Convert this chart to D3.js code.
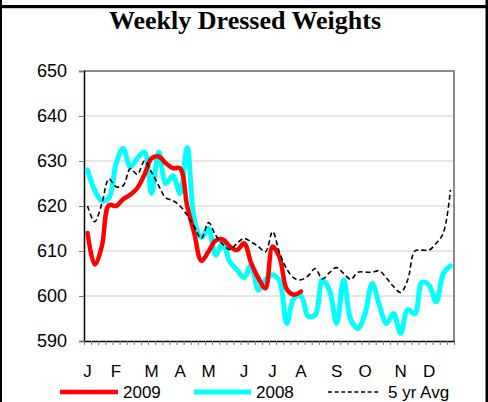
<!DOCTYPE html>
<html><head><meta charset="utf-8">
<script src="https://cdn.jsdelivr.net/npm/d3@7"></script>
<style>
html,body{margin:0;padding:0;background:#fff;}
svg{display:block;}
text{font-family:Arial,"Liberation Sans",sans-serif;fill:#000;}
</style></head>
<body>
<svg id="c" width="488" height="402"></svg>
<script>
// ---- data ----
const weeks = d3.range(52);
const monthLabels = ["J","F","M","A","M","J","J","A","S","O","N","D"];
const monthWeekIndex = [0,4,9,13,17,22,26,30,35,39,44,48];
const yTicks = [590,600,610,620,630,640,650];
const series2009 = [614,607,611,620.2,620,621.5,622.5,624,627,630.6,631,629.5,628.4,628.4,620,613.9,607.8,609.9,612.3,612.6,611,610.2,611.7,607.3,604,601.7,611,608.5,601.5,600.3,601];
const series2008 = [628,623.5,621.2,621.8,629.3,632.8,628.7,630.6,632,622.8,632,625,626.7,622.8,633,617,613,615,609.1,611.7,607.6,605.8,604.1,606.9,601.3,603.6,604.7,603.2,593.9,599.5,600,595.5,595.8,603.6,601.3,593.9,603.6,594.7,592.8,596.1,602.8,598,593.9,596.1,591.7,597,596,603,602.4,598.7,605,606.7];
const series5yr = [620,616.5,620.5,626,624.3,624.5,628.3,627,630,627.5,624.5,621.8,621.2,620,618,615.4,612.8,616.3,613.5,611.5,610.3,611.7,612.8,612,611,609.8,614.3,609.5,606,604,603.6,604.5,606.1,603.8,605.2,606.3,605,603.7,605.3,605.3,605.3,605.6,604,602.1,600.8,603.6,610,610.2,610.2,611.7,614,623.6];
const legendItems = [
  {label:"2009", color:"#ff0000", width:4.5, dash:null},
  {label:"2008", color:"#00ffff", width:5, dash:null},
  {label:"5 yr Avg", color:"#000", width:1.6, dash:"4,2.6"}
];
const titleText = "Weekly Dressed Weights";

// ---- layout ----
const svg = d3.select("#c");
const L = 84, R = 454, T = 71, B = 341;

const x = d3.scaleBand().domain(weeks).range([L, R]).paddingInner(0).paddingOuter(0);
const xc = i => x(i) + x.bandwidth()/2;
const xEdge = d3.scaleLinear().domain([0, 52]).range([L, R]);
const y = d3.scaleLinear().domain([590, 650]).range([B, T]);

// outer frame
svg.append("rect").attr("x",0).attr("y",0).attr("width",2).attr("height",402).attr("fill","#000");
svg.append("rect").attr("x",485.5).attr("y",0).attr("width",2.5).attr("height",402).attr("fill","#000");
svg.append("rect").attr("x",0).attr("y",5).attr("width",488).attr("height",3.2).attr("fill","#000");

// title
svg.append("text").attr("x",245).attr("y",28.5).attr("text-anchor","middle")
  .style("font-family","'Times New Roman','Liberation Serif',serif")
  .style("font-weight","bold").style("font-size","26px").text(titleText);

// gridlines
svg.append("g").selectAll("line").data(yTicks.filter(v => v>590 && v<650)).join("line")
  .attr("x1",L).attr("x2",R).attr("y1",d=>y(d)).attr("y2",d=>y(d))
  .attr("stroke","#cfcfcf").attr("stroke-width",1);

// frame top & right (gray)
svg.append("line").attr("x1",L).attr("x2",R+1).attr("y1",T).attr("y2",T).attr("stroke","#8a8a8a").attr("stroke-width",2);
svg.append("line").attr("x1",R).attr("x2",R).attr("y1",T).attr("y2",B).attr("stroke","#8a8a8a").attr("stroke-width",2);

// y axis
const yAxis = svg.append("g").attr("transform",`translate(${L},0)`)
  .call(d3.axisLeft(y).tickValues(yTicks).tickSize(5).tickPadding(12).tickFormat(d3.format("d")));
yAxis.select(".domain").attr("stroke","#000").attr("stroke-width",1.5);
yAxis.selectAll(".tick line").attr("stroke","#777");
yAxis.selectAll("text").style("font-size","18px").attr("font-family",null);

// x minor ticks
const xTicks = svg.append("g").attr("transform",`translate(0,${B})`)
  .call(d3.axisBottom(xEdge).tickValues(d3.range(53)).tickSize(4).tickSizeOuter(0).tickFormat(""));
xTicks.select(".domain").attr("stroke","#000").attr("stroke-width",1.5);
xTicks.selectAll(".tick line").attr("stroke","#777");

// month labels
const mAxis = svg.append("g").attr("transform",`translate(0,${B})`)
  .call(d3.axisBottom(x).tickValues(monthWeekIndex).tickSize(0)
        .tickFormat((d,i)=>monthLabels[i]));
mAxis.select(".domain").remove();
mAxis.selectAll("text").attr("y",36).attr("dy",null).style("font-size","17px").attr("font-family",null);

// lines
const line = data => d3.line().x((d,i)=>xc(i)).y(d=>y(d)).curve(d3.curveCatmullRom.alpha(0.5))(data);
const plot = svg.append("g");
plot.append("path").attr("d",line(series2008)).attr("fill","none").attr("stroke","#00ffff").attr("stroke-width",5).attr("stroke-linejoin","round").attr("stroke-linecap","round");
plot.append("path").attr("d",line(series2009)).attr("fill","none").attr("stroke","#ff0000").attr("stroke-width",4.5).attr("stroke-linejoin","round").attr("stroke-linecap","round");
plot.append("path").attr("d",line(series5yr)).attr("fill","none").attr("stroke","#000").attr("stroke-width",1.6).attr("stroke-dasharray","5,3");

// legend
const lx = [60,194,328], ll = [58,57,52];
const lg = svg.append("g");
legendItems.forEach((it,k)=>{
  lg.append("line").attr("x1",lx[k]).attr("x2",lx[k]+ll[k]).attr("y1",392).attr("y2",392)
    .attr("stroke",it.color).attr("stroke-width",it.width).attr("stroke-dasharray",it.dash);
  lg.append("text").attr("x",lx[k]+ll[k]+(k===2?8:5)).attr("y",397.5).style("font-size","17px").text(it.label);
});
</script>
</body></html>
